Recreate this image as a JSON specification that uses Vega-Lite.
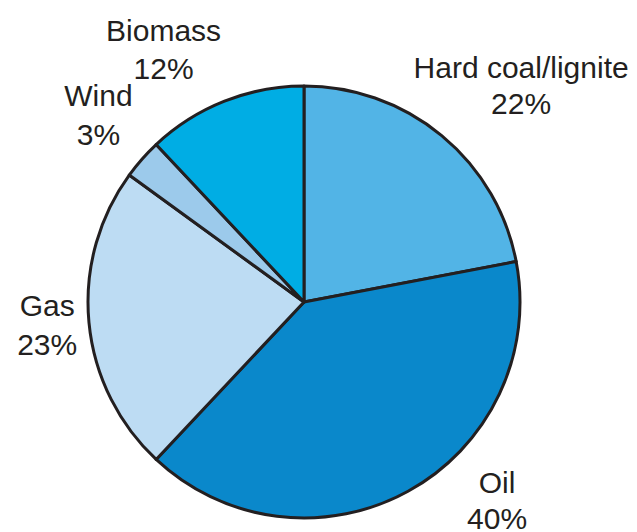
{
  "$schema": "https://vega.github.io/schema/vega-lite/v6.json",
  "width": 608,
  "height": 460,
  "autosize": {"type": "none"},
  "padding": {"left": 0, "top": 72, "right": 29, "bottom": 0},
  "background": "white",
  "config": {"view": {"stroke": null}},
  "data": {
    "values": [
      {"source": "Hard coal/lignite", "share": 22, "idx": 1},
      {"source": "Oil", "share": 40, "idx": 2},
      {"source": "Gas", "share": 23, "idx": 3},
      {"source": "Wind", "share": 3, "idx": 4},
      {"source": "Biomass", "share": 12, "idx": 5}
    ]
  },
  "transform": [
    {"stack": "share", "groupby": [], "sort": [{"field": "idx", "order": "ascending"}], "as": ["s0", "s1"]},
    {"calculate": "(datum.s0 + datum.s1) / 2", "as": "mid"},
    {"calculate": "datum.source + '\\n' + datum.share + '%'", "as": "label"}
  ],
  "layer": [
    {
      "mark": {"type": "arc", "outerRadius": 216, "stroke": "#231f20", "strokeWidth": 3, "strokeJoin": "round"},
      "encoding": {
        "theta": {"field": "s0", "type": "quantitative", "scale": {"domain": [0, 100]}},
        "theta2": {"field": "s1"},
        "color": {
          "field": "source",
          "type": "nominal",
          "legend": null,
          "scale": {
            "domain": ["Hard coal/lignite", "Oil", "Gas", "Wind", "Biomass"],
            "range": ["#52b4e6", "#0a88cb", "#bddcf3", "#9ccaeb", "#00ade4"]
          }
        }
      }
    },
    {
      "transform": [{"filter": "datum.source == 'Hard coal/lignite'"}],
      "mark": {"type": "text", "radius": 270, "dx": 45, "dy": -25, "fontSize": 30, "font": "Liberation Sans", "lineBreak": "\n", "lineHeight": 36, "align": "center", "baseline": "middle", "color": "#231f20"},
      "encoding": {"theta": {"field": "mid", "type": "quantitative", "scale": {"domain": [0, 100]}}, "text": {"field": "label"}}
    },
    {
      "transform": [{"filter": "datum.source == 'Oil'"}],
      "mark": {"type": "text", "radius": 270, "dx": 63, "dy": -55, "fontSize": 30, "font": "Liberation Sans", "lineBreak": "\n", "lineHeight": 36, "align": "center", "baseline": "middle", "color": "#231f20"},
      "encoding": {"theta": {"field": "mid", "type": "quantitative", "scale": {"domain": [0, 100]}}, "text": {"field": "label"}}
    },
    {
      "transform": [{"filter": "datum.source == 'Gas'"}],
      "mark": {"type": "text", "radius": 270, "dx": 12, "dy": -20, "fontSize": 30, "font": "Liberation Sans", "lineBreak": "\n", "lineHeight": 39, "align": "center", "baseline": "middle", "color": "#231f20"},
      "encoding": {"theta": {"field": "mid", "type": "quantitative", "scale": {"domain": [0, 100]}}, "text": {"field": "label"}}
    },
    {
      "transform": [{"filter": "datum.source == 'Wind'"}],
      "mark": {"type": "text", "radius": 270, "dx": -3, "dy": -26, "fontSize": 30, "font": "Liberation Sans", "lineBreak": "\n", "lineHeight": 39, "align": "center", "baseline": "middle", "color": "#231f20"},
      "encoding": {"theta": {"field": "mid", "type": "quantitative", "scale": {"domain": [0, 100]}}, "text": {"field": "label"}}
    },
    {
      "transform": [{"filter": "datum.source == 'Biomass'"}],
      "mark": {"type": "text", "radius": 270, "dx": -41, "dy": -19, "fontSize": 30, "font": "Liberation Sans", "lineBreak": "\n", "lineHeight": 38, "align": "center", "baseline": "middle", "color": "#231f20"},
      "encoding": {"theta": {"field": "mid", "type": "quantitative", "scale": {"domain": [0, 100]}}, "text": {"field": "label"}}
    }
  ]
}
